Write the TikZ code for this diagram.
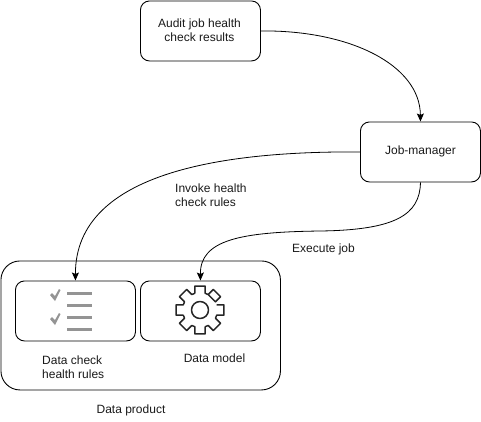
\documentclass[tikz,border=0pt]{standalone}
\usepackage{fontspec}
\setmainfont{Liberation Sans}
\usetikzlibrary{arrows.meta}
\tikzset{
  box/.style={draw=black,line width=0.9pt,rounded corners=9pt,minimum width=120pt,minimum height=60pt,inner sep=0pt,anchor=north west,align=center},
  outerbox/.style={draw=black,line width=0.9pt,rounded corners=19pt,minimum width=279.5pt,minimum height=129pt,inner sep=0pt,anchor=north west},
  lbl/.style={font=\fontsize{12pt}{14pt}\selectfont,align=center,inner sep=0pt,text=black!90},
  lbll/.style={lbl,align=left,anchor=west},
  conn/.style={draw=black,line width=0.8pt,-{Stealth[length=8pt,width=7pt,inset=1.5pt]}},
  greybar/.style={draw=black!42,line width=2.2pt},
  tick/.style={fill=black!42,draw=none},
  gearline/.style={line width=1.5pt,line join=round,draw=black!85},
}
\begin{document}
\begin{tikzpicture}[x=1pt,y=-1pt]
\useasboundingbox (0,0) rectangle (481,421);
\node[box] (audit) at (140,0.5) {};
\node[lbl] (audittext) at (199.5,30.5) {Audit job health\\check results};
\node[box] (job) at (360,121.5) {};
\node[lbl] (jobtext) at (420.5,151.5) {Job-manager};
\node[outerbox] (product) at (0.5,260.5) {};
\node[box] (rules) at (15,280.5) {};
\node[box] (model) at (140,280.5) {};
\node[lbll] (ruletext) at (42,367) {Data check\\health rules};
\node[lbl] (modeltext) at (214.5,358.5) {Data model};
\node[lbl] (producttext) at (131,410) {Data product};
\node[lbll] (invoke) at (175,195) {Invoke health\\check rules};
\node[lbl] (execute) at (323.5,249.5) {Execute job};
\draw[conn] (audit.east) .. controls (350,30) and (420,65) .. (job.north);
\draw[conn] (job.west) .. controls (230,151) and (75,170) .. (rules.north);
\draw[conn] (job.south) .. controls (420,215) and (395,230) .. (320,231) .. controls (240,232) and (200,240) .. (model.north);
% checklist
\draw[greybar] (67,293.5) -- (92,293.5);
\draw[greybar] (67,305.5) -- (92,305.5);
\draw[greybar] (67,317.5) -- (92,317.5);
\draw[greybar] (67,329.5) -- (92,329.5);
\fill[tick] (50,295) -- (52,293) -- (55,296) -- (59,289) -- (60.5,290) -- (55,301) -- cycle;
\fill[tick] (50,319) -- (52,317) -- (55,320) -- (59,313) -- (60.5,314) -- (55,325) -- cycle;
% gear
\begin{scope}[shift={(200,310)}]
\draw[gearline]
  \foreach \a in {0,45,...,315} {
    ({\a-17}:17.5) -- ({\a-12}:24.5) -- ({\a+12}:24.5) -- ({\a+17}:17.5)
    \ifnum\a<315 -- ({\a+28}:17.5) \else -- cycle \fi
  };
\draw[gearline] (0,0) circle (8.5);
\end{scope}
\end{tikzpicture}
\end{document}
